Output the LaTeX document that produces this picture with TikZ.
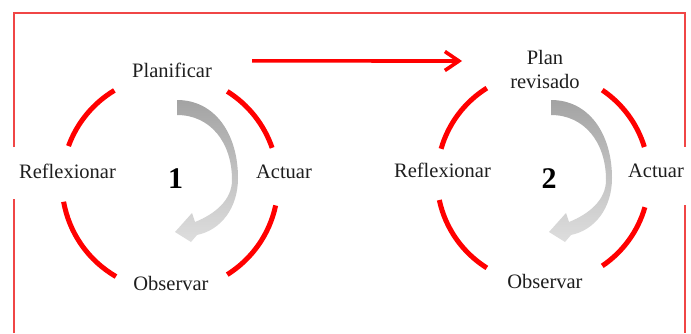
\documentclass[tikz,border=0pt]{standalone}
\usepackage{fontspec}
\setmainfont{Liberation Serif}
\usetikzlibrary{arrows.meta}
\definecolor{texto}{RGB}{30,30,30}
\definecolor{rojo}{RGB}{255,0,0}
\definecolor{marcorojo}{RGB}{240,70,70}
\tikzset{
  etiqueta/.style={inner sep=0pt, text=texto, font=\fontsize{20.5}{23.3}\selectfont, align=center},
  numero/.style={inner sep=0pt, text=black, font=\fontsize{30}{30}\selectfont\bfseries},
  arco/.style={draw=rojo, line width=5pt},
  marco/.style={draw=marcorojo, line width=1.4pt},
  flecha/.style={draw=rojo, line width=3.6pt, -{Straight Barb[length=14pt,width=19pt]}},
  flechagris/.pic={
    \shade[top color=black!36, bottom color=black!13]
      (0,72) .. controls (38,72) and (61,38) .. (61,-6)
      .. controls (61,-36) and (44,-58) .. (20,-63)
      -- (14,-70) -- (-2,-60) -- (15,-41) -- (18,-50)
      .. controls (38,-42) and (55,-28) .. (55,-8)
      .. controls (55,30) and (33,57) .. (0,57) -- cycle;
  }
}
\begin{document}
\begin{tikzpicture}[x=1pt, y=1pt]
            \useasboundingbox (0,0) rectangle (691,333);

            %frame
            \draw[marco] (14,0) -- (14,134);
            \draw[marco] (14,186) -- (14,320) -- (685,320) -- (685,186);
            \draw[marco] (685,128) -- (685,0);

            %centres
            \coordinate (c1) at (170,150);
            \coordinate (c2) at (543,155);

            %arcs
            \foreach \a/\b in {19/58, 121/160, 190/240, 302/348}
                \draw[arco] (c1) ++(\a:108) arc[start angle=\a, end angle=\b, radius=108];
            \foreach \a/\b in {17/56, 122/164, 192/238, 304/344}
                \draw[arco] (c2) ++(\a:106) arc[start angle=\a, end angle=\b, radius=106];

            %grey arrows
            \pic at (177,161) {flechagris};
            \pic at (551,161) {flechagris};

            %nodes
            \node[etiqueta, anchor=base] (plan1) at (172,256) {Planificar};
            \node[etiqueta, anchor=base] (act1) at (284,155) {Actuar};
            \node[etiqueta, anchor=base] (obs1) at (171,43) {Observar};
            \node[etiqueta, anchor=base] (ref1) at (67.5,155) {Reflexionar};
            \node[numero, anchor=base] (num1) at (175.5,145) {1};

            \node[etiqueta] (plan2) at (545,263.5) {Plan\\revisado};
            \node[etiqueta, anchor=base] (act2) at (656,156) {Actuar};
            \node[etiqueta, anchor=base] (obs2) at (545,45) {Observar};
            \node[etiqueta, anchor=base] (ref2) at (442.5,156) {Reflexionar};
            \node[numero, anchor=base] (num2) at (549,145) {2};

            %edges
            \draw[flecha] ([xshift=40pt, yshift=9pt]plan1.east) -- ([xshift=-48pt, yshift=8.5pt]plan2.west);
        \end{tikzpicture}
\end{document}
